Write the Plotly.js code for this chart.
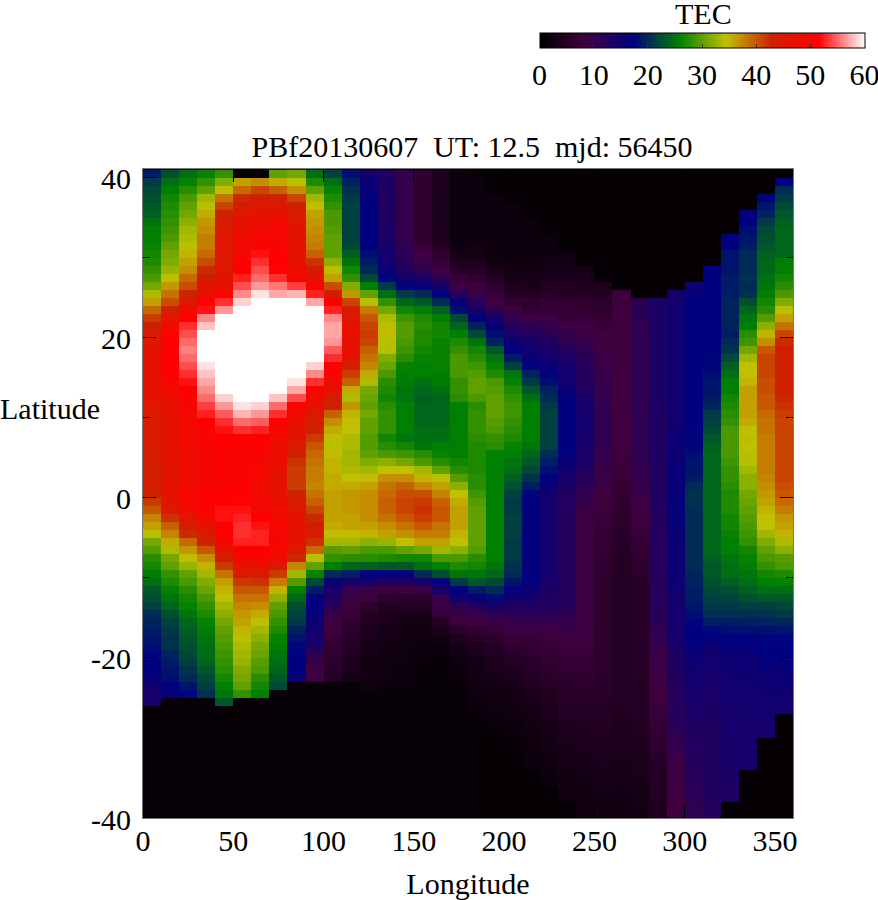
<!DOCTYPE html>
<html><head><meta charset="utf-8">
<script src="https://cdn.plot.ly/plotly-3.0.1.min.js"></script>
<style>html,body{margin:0;padding:0;background:#fff}</style></head>
<body><div id="chart" style="width:878px;height:900px"></div>
<script>
const chartTitle = "PBf20130607\u00a0\u00a0UT: 12.5\u00a0\u00a0mjd: 56450";
const lonEdges = [0,10,20,30,40,50,60,70,80,90,100,110,120,130,140,150,160,170,180,190,200,210,220,230,240,250,260,270,280,290,300,310,320,330,340,350,360];
const latEdges = [41,40,39,38,37,36,35,34,33,32,31,30,29,28,27,26,25,24,23,22,21,20,19,18,17,16,15,14,13,12,11,10,9,8,7,6,5,4,3,2,1,0,-1,-2,-3,-4,-5,-6,-7,-8,-9,-10,-11,-12,-13,-14,-15,-16,-17,-18,-19,-20,-21,-22,-23,-24,-25,-26,-27,-28,-29,-30,-31,-32,-33,-34,-35,-36,-37,-38,-39,-40];
const latTickVals = [-40,-20,0,20,40];
const latTickText = ["-40","-20","0","20","40"];
const latMinorVals = [-30,-10,10,30];
const paletteStops = [[0,"#000000"],[0.142857,"#400040"],[0.285714,"#000080"],[0.428571,"#008000"],[0.571429,"#c0c000"],[0.714286,"#cc2200"],[0.857143,"#ff0000"],[1,"#ffffff"]];
// TEC values per longitude column, listed from the top row (lat 40..41) to the bottom row (lat -40..-39)
const c00=[19,21,22,22.5,23,23.5,25,25.7,25.7,26,
26.5,27,28,29,31,33.5,36,39,41.5,43.5,
44.5,46,47,47,47,47,47,47,46.5,46,
45.5,45,45,45,44.5,44.5,44.5,44,44,44,
43,41.5,40,37.5,36,34,31,29.5,27.5,26.5,
25.5,24.5,23,22.5,21.5,20,19.5,19,18.5,18,
17.5,17.2,16.7,16,15,14.5,14,1,1,1,
1,1,1,1,1,1,1,1,1,1,1];
const c01=[22.5,24.5,25.7,26.5,27,27.5,28,28.5,29,30,
31,31.5,32.5,34.5,36.5,38.5,40.5,43,47,49,
50.5,51.4,51.4,51.4,51.4,51,50,49,48,47.5,
47.5,47,47,47,47,46.5,46.5,46.5,46.5,46.5,
47,46.5,45.5,42,39.5,37.5,35.5,33.5,31,30,
28,27,26,25,24,22.5,21.5,21,20.5,20.5,
19.5,19,18.5,18,17.2,16.5,1,1,1,1,
1,1,1,1,1,1,1,1,1,1,1];
const c02=[24.5,26,27.5,29,30,31,32,33,33.5,34,
35,36,37,39,40.5,43,45.5,49,51.4,53,
54,55,55.7,55,54,53,52,51.4,50.5,50,
49.5,49.5,49,49,49,49,49,49,49,49,
50,49.5,48.5,46,44.5,42.5,39,36.5,34.5,32.5,
30,29,27.5,26.5,26,25,24,23.5,23,22.5,
22,21.5,20.5,20,18.5,17.5,1,1,1,1,
1,1,1,1,1,1,1,1,1,1,1];
const c03=[26,28,30,33,34,35.5,36.5,37,38,38,
39,40.5,42.5,44,46.5,48,50.5,52,56,58,
60,60,60,60,59,58,57,56,55,53.5,
52.5,51.4,51,50.5,50,50,50,50,50,50,
51,51.4,51,49.5,47,45,43,40,37,35,
33,31.5,30.5,29,28,27,26,25.5,25,24.5,
24.5,24,23,22,21.5,20.5,1,1,1,1,
1,1,1,1,1,1,1,1,1,1,1];
const c04=[28,31.5,34.5,38.5,41,43,44.5,45.5,46,46,
46,46,46,46.5,47,50.5,53,56.5,60,60,
60,60,60,60,60,60,60,60,58.5,56.5,
54.5,53,52,51.4,51,50.5,50.5,50.5,50.5,50.5,
51.4,51.4,52,52,51.4,51.4,50,47,44,41.5,
38.5,36,35,34.2,33,32,31,30,29.5,29,
28.5,28,27.5,26.5,25.7,25,23,1,1,1,
1,1,1,1,1,1,1,1,1,1,1];
const c05=[1,36,39,42.5,44.5,46,47,48,48.5,49,
50,51,51.4,52.5,54,56,58.5,60,60,60,
60,60,60,60,60,60,60,60,60,59,
57.5,55,53,51.4,51,50.5,50.5,50.5,50.5,50.5,
51.4,51.5,52,52.5,53,53,52.5,51.4,50,47,
45.5,41.5,40,38.5,37.5,36.5,36,35,34,33.5,
33,32.5,31.5,31,30,28,1,1,1,1,
1,1,1,1,1,1,1,1,1,1,1];
const c06=[1,37,41,43.5,45.5,47,48,49,50,50.5,
52,53,54,55,56.5,59,60,60,60,60,
60,60,60,60,60,60,60,60,60,58.5,
56.5,54.5,52.5,51.4,51,50.5,50,49.5,49.5,49,
49,49.5,50,51.4,52,52.5,52.5,51.4,50,47.5,
45,42,40,38.5,37,35.5,34.2,33,32,31,
30.5,29.5,29,27.5,26.5,25.7,1,1,1,1,
1,1,1,1,1,1,1,1,1,1,1];
const c07=[30,35.5,39.5,43,45.5,47.5,49,49.5,50,50.5,
51,51.4,51.5,53,55.5,57,60,60,60,60,
60,60,60,60,60,60,60,60,58,55,
53,51.4,50,49,48.5,48,48,47.5,47,47,
47.5,48,48.5,49,49.5,50,50,49.5,48.5,45.5,
41.5,38,35,32,30,29,28,27,26,25.7,
25,24.5,24,23,22,1,1,1,1,1,
1,1,1,1,1,1,1,1,1,1,1];
const c08=[31,34,37,41,43.5,45,46,46.5,46.5,47,
47,47.5,48,50,53.5,57.5,60,60,60,60,
60,60,60,60,60,60,59,57,54,51.4,
49,48,47,46.5,45.5,43,42,41.5,41.5,41.5,
43,44.5,46,47,47,47,47,45.5,42.5,37.5,
33,29.5,25.7,24,22.5,21.5,21,19.5,18.5,17.5,
17.2,17.2,17.2,16,1,1,1,1,1,1,
1,1,1,1,1,1,1,1,1,1,1];
const c09=[24.5,27,30,33,34.5,36,36.5,37,37.5,38,
39.5,42,44.5,47,50,52.5,57,60,60,60,
60,60,60,60,58.5,56,53,51.4,49.5,47,
45.5,44.5,43,41.5,40,39,38.5,38,38,37.5,
38.5,39.5,41,42.5,44,44.5,42,39,34,30,
26,22,19,17,17,16.5,15,14.5,14,13.5,
11,9.5,9,9,1,1,1,1,1,1,
1,1,1,1,1,1,1,1,1,1,1];
const c10=[21.5,24.5,26,27,28,29,29,29.5,30,30,
30,32,34,36,40.5,44,51.4,52.5,56,57,
57,56.5,54.5,53,51.4,50.5,49,47,44,43,
39.5,37,35.5,34.5,34,34.5,35,35,35.5,35.5,
36,36,36,36,35.5,34.5,33,29.5,28,25.7,
20,16,14,13,12,9.5,9,8.5,7.5,7,
6.5,6,5.5,5,1,1,1,1,1,1,
1,1,1,1,1,1,1,1,1,1,1];
const c11=[18,19.5,20.5,21,21.5,21.5,21.5,21.5,21.5,22,
23.5,25,26.5,28,31.5,36.5,41,44.5,46,47,
47.5,47.5,47.5,47,43,41.5,39.5,35.5,33.5,36.5,
35,34.3,34.3,33.5,33.5,33,33,33.5,34.3,35.5,
36.5,36.5,36.5,36,36,34.5,33,30,27.5,24,
19,14,10.5,9,8,7.5,6.5,6,5.5,5,
4.5,4,3.5,3,1,1,1,1,1,1,
1,1,1,1,1,1,1,1,1,1,1];
const c12=[14.5,15.5,16,16.5,17,17.2,17.2,17.2,17,17,
18,19,20,22,25.7,30,34,38,40,41,
41.5,41,39.5,38.5,37.5,35.5,33.5,31,30.5,30,
31,30,30,29.5,29.5,30,31.5,33,34.5,36,
37,37,37,37,36,35,32,29,27.5,23.5,
17,14,9.5,8,6,5,4.5,4,3.5,3,
3,2.5,2.5,2.5,2,1,1,1,1,1,
1,1,1,1,1,1,1,1,1,1,1];
const c13=[13,13.5,13,13,13,13,13,13.5,13.5,14,
14.5,15,15.5,17.5,21,24.5,28,31,33.5,34.5,
34.5,34,34,31.5,30.5,29,27.5,27,26.5,27.5,
28,28,28,26.5,27.5,29,32,34.3,37,38.5,
39,39.5,39.5,38.5,37,36,32.5,29,27,23,
17,13,9,6,5,4,3.5,3,3,2.5,
2,2,2,2,1.5,1,1,1,1,1,
1,1,1,1,1,1,1,1,1,1,1];
const c14=[10.5,10,10,10,10,10,10,10,10.5,11,
11.5,12,13,15,17.5,21,24,26.5,28.5,29.5,
29.5,29,28.5,27.5,26,25.7,25.5,25,25,25.7,
25.7,25.7,25.7,25,26.5,28.5,31,34.3,37,39.5,
40.5,41,41,40,38.5,37,34.3,30,26.5,23,
17,13,8.5,5.5,5,3.5,3,2.5,2.5,2,
2,2,1.5,1.5,1.5,1,1,1,1,1,
1,1,1,1,1,1,1,1,1,1,1];
const c15=[6.5,6,6,6,6,6,6,6,6.5,7.5,
8.5,9.5,11,13.5,16,20,23,25.7,27,27.5,
27,27,26.5,26,25.7,25.7,24.5,24,23.5,24,
24,24,24.5,24.5,25,27.5,29,33,35,37.5,
40.5,41.5,42,41.5,40,38,36,31,26.5,24.5,
20,14,9.5,5.5,5,3.5,3,2.5,2,1.5,
1.5,1.5,1,1,1,1,1,1,1,1,
1,1,1,1,1,1,1,1,1,1,1];
const c16=[4,3.5,3.5,3.5,3.5,3.5,3.5,3.5,4,5,
6,7.5,9,11,14,17,20,23.5,25.7,26.5,
26.5,26,26,26,26,25.7,25.5,24.5,24,24,
24,24,24.5,24.5,25.7,26,27.5,30,34,36,
37.5,39.5,40,40,38.5,38,36,33,29,25.7,
22.5,17,14,10,9.5,7.5,5,3.5,2.5,1.5,
1.5,1,1,1,1,1,1,1,1,1,
1,1,1,1,1,1,1,1,1,1,1];
const c17=[1.5,1.5,1.5,1.5,1.5,1.5,1.5,1.5,1.5,2,
3,4,5,7.5,9,12,16,18,22,24,
25.7,27,28,29,29,29,28,28,27.5,25.7,
25.7,25.7,25.7,25.7,25.7,25.7,26.5,27.5,29.5,32,
34.3,35.5,36,36,36,35,34.3,32,29,27,
25,21,17.2,15,11,9.5,8,5.5,4,3,
2.5,2,1.5,1.5,1,1,1,1,1,1,
1,1,1,1,1,1,1,1,1,1,1];
const c18=[1,1.5,1.5,1.5,1.5,1.5,1.5,1.5,1.5,2.5,
3,4,5,6.5,8,9.5,12,14,17.2,19.5,
22,25,26.5,27.5,28.5,29.5,30,30,29,27.5,
28,28,28,27.5,27,27,27,27,27.5,27.5,
28.5,29.5,30,30,30,30,30,29.5,27.5,26.5,
25,23,19,16,12.5,10,8.5,6.5,5.5,4,
3.5,3,2.5,2.5,2,2,1.5,1.5,1,1,
0.5,0.5,0.5,0.5,0.5,0.5,0.5,0.5,0.5,0.5,0.5];
const c19=[0.5,0.5,0.5,1.5,1.5,1.5,1.5,1.5,1.5,1.5,
2,2.5,3.5,5,6,7.5,9,11,14,16,
18,19.5,23,25,26,27,29,29.5,30,30,
30,29.5,29,28,27.5,25.7,25.7,25.7,25.7,25.7,
25.7,25.7,25.7,25.7,25.7,25.7,25.7,25.7,25.7,25,
24,22,20,18,14,11,9.5,7.5,6,5,
4.5,4,3.5,3,2.5,2.5,2,2,1.5,1.5,
1,0.5,0.5,0.5,0.5,0.5,0.5,0.5,0.5,0.5,0.5];
const c20=[0.5,0.5,0.5,0.5,1.5,1.5,1.5,1.5,1.5,1.5,
1.5,2,2.5,3,4,5,6.5,8.5,10.5,12.5,
13.5,15.5,17,19,21.5,25,26,27,28,28.5,
28.5,28,27.5,27,26,25.7,25,24.5,23.5,22.5,
21.5,21,21,21.5,21.5,21.5,21,21,21,20.5,
20,18.5,16.5,15,13,11.5,10,9,7.5,6.5,
5.5,5,4,3.5,3,2.5,2.5,2,2,1.5,
1.5,1,1,0.5,0.5,0.5,0.5,0.5,0.5,0.5,0.5];
const c21=[0.5,0.5,0.5,0.5,0.5,0.5,1.5,1.5,1.5,1.5,
1.5,2,2.5,3,3.5,4.5,6,7,9,11,
12.5,14,15,16,17.5,19.5,21,23,24.5,25.7,
25.7,25.7,25.7,25.7,25,24,23,22,20.5,19,
17.5,17.2,17.2,17.2,17.2,17.2,17.2,17.2,17.2,17.2,
17,16.5,15.5,14.5,13,12,10.5,9,7.5,7,
6,5.5,5,4.5,4,3.5,3,3,2.5,2.5,
2,2,1.5,1.5,1.5,0.5,0.5,0.5,0.5,0.5,0.5];
const c22=[0.5,0.5,0.5,0.5,0.5,0.5,0.5,0.5,1.5,1.5,
2,2.5,3,3.5,4.5,5.5,7,7.5,9,10,
11.5,13,14,15,16,16.5,18,19.5,20,21,
21.5,21.5,21.5,21.5,21.5,20,19,18,17,16,
15,14.5,14.5,14.5,14.5,14.5,14.5,14.5,14.5,14.5,
14.5,14,13.5,13,12.5,11.5,10,9,8,7.5,
7,6.5,6,5.5,5,4.5,4,3.5,3.5,3,
3,2.5,2.5,2,2,1.5,1.5,0.5,0.5,0.5,0.5];
const c23=[0.5,0.5,0.5,0.5,0.5,0.5,0.5,0.5,0.5,0.5,
2,2.5,3,3.5,4.5,5,6,7,7.5,9,
10,11,12.5,13.5,14,14.5,15,16,16.5,17,
17.2,17.2,17.2,17.2,17,16.5,16,15,14.5,13.5,
13,12.5,12.5,12.5,12.5,12.5,12.5,12.5,12.5,12.5,
12.5,12.5,12.5,12.5,12.5,11,10.5,9.5,8.5,8,
7.5,7,6.5,6,5.5,5.5,5,5,4.5,4,
3.5,3.5,3,3,3,2.5,2.5,2,2,0.5,0.5];
const c24=[0.5,0.5,0.5,0.5,0.5,0.5,0.5,0.5,0.5,0.5,
0.5,0.5,3,3.5,4,5,6,6.5,7.5,8.5,
9,10,11,11.5,12,12.5,12.5,13,14,14,
14.5,15,15,14.5,14,14,13.5,13,12,12,
10.5,10,9.5,9,9,9,9,9,9,9,
9,9,9,9,9,9,9,8.5,8.5,8,
7.5,7,6.5,6.5,6,5.5,5,5,4.5,4.5,
4,3.5,3.5,3,3,3,2.5,2.5,2.5,2.5,2];
const c25=[0.5,0.5,0.5,0.5,0.5,0.5,0.5,0.5,0.5,0.5,
0.5,0.5,0.5,0.5,4,4.5,5.5,6,7,7.5,
8.5,8.5,9,9.5,9.5,10,10,10,10.5,10.5,
11,11,11,11,10.5,10.5,10,9.5,9.5,9.5,
8.5,8,8,7.5,7.5,7,7,6.5,6.5,6.5,
6,6,6,6,6,6,6,6,6,6,
6,6,6,5.5,5.5,5.5,5,5,5,4.5,
4.5,4,4,3.5,3.5,3,3,3,2.5,2.5,2.5];
const c26=[0.5,0.5,0.5,0.5,0.5,0.5,0.5,0.5,0.5,0.5,
0.5,0.5,0.5,0.5,0.5,8,8,8.5,8.5,8.5,
8.5,8.5,8.5,8.5,8.5,8.5,8.5,8.5,8.5,8.5,
8.5,8.6,8.6,8.6,8.6,8,8,7.5,7.5,7,
6.5,6.5,6,6,6,5.5,5.5,5,5,5,
5,5,5,5,5,5,5,5,5,5,
5,5,5,4.5,4.5,4.5,4.5,4.5,4,4,
4,4,3.5,3.5,3,3,3,2.5,2.5,2.5,2.5];
const c27=[0.5,0.5,0.5,0.5,0.5,0.5,0.5,0.5,0.5,0.5,
0.5,0.5,0.5,0.5,0.5,0.5,11.5,11.5,11.5,11,
11,11,11,11,11,11,11,11,11,11,
11,11,11,11,11,11,10.5,10.5,10,10,
9.5,9,9,8.5,8,7.5,7,6.5,6,6,
6,5.5,5.5,5.5,5.5,5.5,5.5,5.5,5.5,5.5,
5.5,5.5,5.5,5,5,5,5,5,5,4.5,
4.5,4,4,3.5,3.5,3.5,3,3,3,3,2.5];
const c28=[0.5,0.5,0.5,0.5,0.5,0.5,0.5,0.5,0.5,0.5,
0.5,0.5,0.5,0.5,0.5,0.5,13.5,13.5,13.5,13.5,
13.5,13.5,13.5,13.5,13.5,13.5,13.5,13.5,13.5,13.5,
13,13,13,13,13,13,13,13,13,13,
13,13,12.5,12.5,12.5,12.5,12.5,12.5,12.5,12.5,
12,12,12,12,12,12,11.5,11,10.5,10,
9.5,9.5,9,9,8.5,8,8,7.5,7.5,7,
6.5,6,6,5.5,5,5,5,4.5,4.5,4,4];
const c29=[0.5,0.5,0.5,0.5,0.5,0.5,0.5,0.5,0.5,0.5,
0.5,0.5,0.5,0.5,0.5,14.5,15,15,15,15,
15,15,15,15,15,15,15,15,15,15,
15,15,15.5,15.5,15.5,15.5,16,16,16,16,
16,16.5,16.5,16.5,16,16,15.5,15.5,15.5,15.5,
15.5,15,15,14.5,14.5,14.5,14.5,14.5,14.5,14,
13.5,13.5,13,13,12.5,12.5,12,12,12,11.5,
11,10.5,10,9.5,9,9,9,8.8,8.6,8.6,8.6];
const c30=[0.5,0.5,0.5,0.5,0.5,0.5,0.5,0.5,0.5,0.5,
0.5,0.5,0.5,0.5,15.5,16.5,17,17,17,17,
17,17,17,17,17,17,17,17,17,17,
17,17,17.5,17.5,17.5,18,18.5,18.5,19,20,
20.5,20.5,20,20,20,20,20,20,20,20,
19.5,19.5,19,19,18.5,18,17.5,17.2,17,16.5,
16,15.5,15,15,14.5,14,14,13.5,13.5,13,
13,13,12.5,12.5,12,12,12,11.5,11.5,11,11];
const c31=[0.5,0.5,0.5,0.5,0.5,0.5,0.5,0.5,0.5,0.5,
0.5,0.5,17,17,17,17,17,17,17,17,
17,17,17.2,17.5,17.5,18,18.5,18.5,19,19.5,
21,21.5,22,23,23.5,24,24,24,24,24,
24,24,24,24,24,24,24,24,23.5,23,
23,22.5,22,21.5,21,20.3,19,17.7,16.5,15.5,
15,14.5,14.5,14,14,14,13.5,13.5,13.5,13,
13,13,13,13,13,13,13,13,13,12.5,12];
const c32=[0.5,0.5,0.5,0.5,0.5,0.5,0.5,0.5,17,17,
18.5,18.5,18.5,19,19,19,19.5,19.5,19.5,19.5,
19,20,20.5,22,23.5,24.5,25.7,25.7,26.5,27,
27.5,28,29,29,29,29,28.5,28,28,27.5,
27,27,27,26.5,26.5,26,25.7,25.7,25,24.5,
24.5,23.5,22.5,21.5,21,20.3,19,18,17.2,16.5,
16,15.5,15.5,15,15,15,14.5,14.5,14.5,14.5,
14.5,14,14,14,14,13.5,13.5,13.5,13,0.5,0.5];
const c33=[0.5,0.5,0.5,0.5,0.5,17,17.2,18,18.5,19,
20,20,20,20.5,20,20.5,22.5,24,25,25.7,
27.5,28.5,31,33,34.3,34.3,35,36,36,36,
36,35.5,34.3,34,34.3,34,34,33,32,32,
31,30.5,30,29.5,29,28.5,28,26.5,26,25.7,
25,24.5,23.5,22.5,21.4,20.3,19.2,18,17.2,16.5,
16,15.5,15.5,15,15,14.5,14.5,14.5,14.5,14.5,
14,14,14,14,14,0.5,0.5,0.5,0.5,0.5,0.5];
const c34=[0.5,0.5,0.5,17.2,18.5,19.5,21,22,22.5,23,
23.5,24,24,24.5,25,25.7,26.5,27.5,29.5,32,
35,37,40,41,41,41,40.5,40.5,40,40,
39,38.5,38.5,38,38,38,38,38,37.5,37,
36.5,36,35,34.3,34.3,33,31.5,30,29,28,
26.5,25.7,24.5,23,21.5,20.5,19.4,18.2,17.5,17.2,
17,16.5,16,15.5,15.5,15,15,15,14.5,14.5,
14.5,0.5,0.5,0.5,0.5,0.5,0.5,0.5,0.5,0.5,0.5];
const c35=[0.5,17,20,21,22,23,23.5,24,24,24,
24,25.5,25.7,26.5,27.5,29,31.5,34,36,38.5,
41,42.5,43.5,43.5,43.5,43.5,43,43,42.5,42,
41.5,41,41,41,41,41,41,41,41,40.5,
40,39,38,36.5,36,35,33.5,32,29.5,29,
27,26,24.5,23,22,21,19.6,18.5,17.5,17,
17,16.5,16,15.5,15.5,15,15,14.5,0.5,0.5,
0.5,0.5,0.5,0.5,0.5,0.5,0.5,0.5,0.5,0.5,0.5];
const columns=[c00,c01,c02,c03,c04,c05,c06,c07,c08,c09,c10,c11,c12,c13,c14,c15,c16,c17,c18,c19,c20,c21,c22,c23,c24,c25,c26,c27,c28,c29,c30,c31,c32,c33,c34,c35];

const serif = "Liberation Serif, Times New Roman, serif";
const tickFont = {family: serif, size: 30, color: "#000"};

Plotly.newPlot("chart", [{
  type: "heatmap", x: lonEdges, y: latEdges, z: columns, transpose: true,
  colorscale: paletteStops, zmin: 0, zmax: 60, zsmooth: false,
  colorbar: {
    orientation: "h", xref: "paper", yref: "paper",
    x: (539.5-143)/650, xanchor: "left", y: (818-33)/649, yanchor: "top",
    len: 325, lenmode: "pixels", thickness: 15, thicknessmode: "pixels",
    tick0: 0, dtick: 10, ticks: "inside", ticklen: 4, tickcolor: "#333",
    ticklabeloverflow: "allow",
    outlinecolor: "#000", outlinewidth: 1, tickfont: tickFont,
    xpad: 0, ypad: 0
  }
}], {
  width: 878, height: 900, autosize: false,
  paper_bgcolor: "#fff", plot_bgcolor: "#000",
  margin: {l: 143, r: 85, t: 169, b: 82, pad: 0},
  title: {text: chartTitle, font: tickFont, xref: "container", yref: "container", x: 472/878, xanchor: "center", y: 1-146/900, yanchor: "middle"},
  xaxis: {
    range: [0,360], tick0: 0, dtick: 50, ticks: "inside", ticklen: 13, tickcolor: "#000", tickwidth: 1,
    mirror: "ticks", showline: true, linecolor: "#777", linewidth: 1, showgrid: false, zeroline: false,
    tickfont: tickFont, ticklabelstandoff: -4, layer: "above traces",
    title: {text: "Longitude", font: tickFont, standoff: 30}
  },
  yaxis: {
    range: [-40,41.1], tickmode: "array", tickvals: latTickVals, ticktext: latTickText, ticks: "inside", ticklen: 13, tickcolor: "#000", tickwidth: 1,
    mirror: "ticks", showline: true, linecolor: "#777", linewidth: 1, showgrid: false, zeroline: false,
    tickfont: tickFont, ticklabelstandoff: 5, ticklabelshift: 1, layer: "above traces",
    minor: {tickmode: "array", tickvals: latMinorVals, ticks: "inside", ticklen: 7, tickcolor: "#000", tickwidth: 1, showgrid: false}
  },
  annotations: [
    {text: "Latitude", xref: "paper", yref: "paper", x: -145/650, xanchor: "left", y: (818-408)/649, yanchor: "middle", showarrow: false, font: tickFont},
    {text: "TEC", xref: "paper", yref: "paper", x: (703-143)/650, xanchor: "center", y: (818-1)/649, yanchor: "top", height: 24, valign: "middle", borderpad: 0, borderwidth: 0, showarrow: false, font: tickFont}
  ]
}, {displayModeBar: false, staticPlot: true});
</script></body></html>
